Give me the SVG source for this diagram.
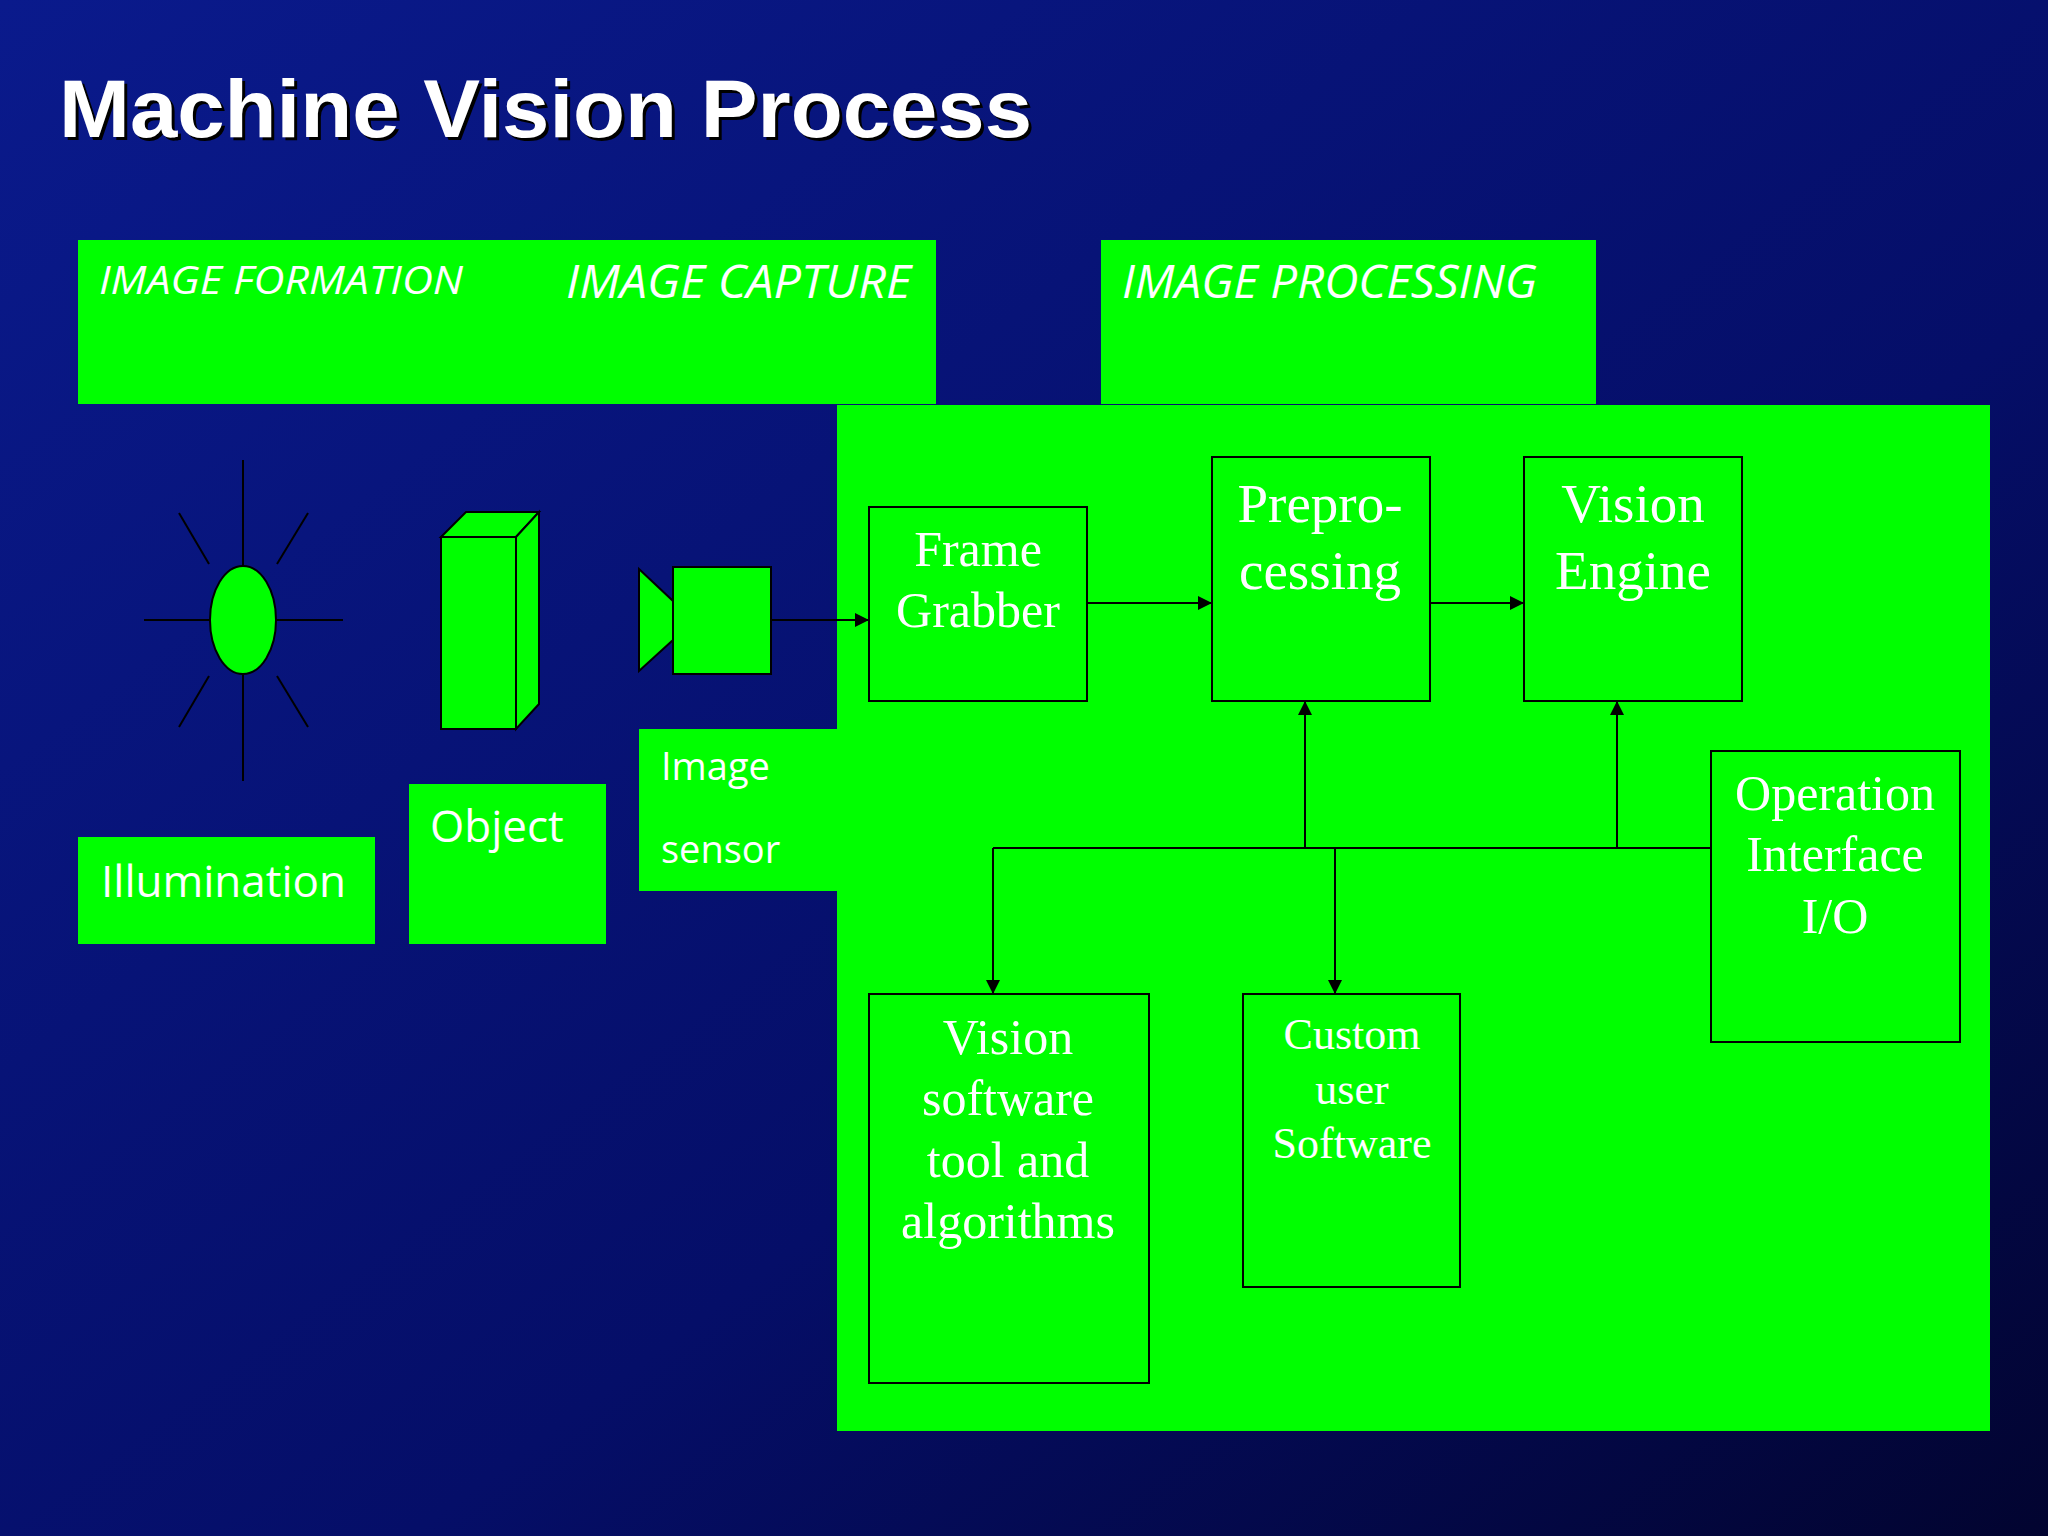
<svg xmlns="http://www.w3.org/2000/svg" width="2048" height="1536" viewBox="0 0 2048 1536">
<defs>
<linearGradient id="bg" x1="0" y1="0" x2="1" y2="1"><stop offset="0" stop-color="#0a1a8c"/><stop offset="0.6" stop-color="#050e68"/><stop offset="1" stop-color="#020430"/></linearGradient>
<marker id="ah" viewBox="0 0 10 10" refX="10" refY="5" markerWidth="14" markerHeight="14" markerUnits="userSpaceOnUse" orient="auto"><path d="M0,0 L10,5 L0,10 z" fill="#000"/></marker>
</defs>
<style>
.g{fill:#00ff00}
.b{fill:#00ff00;stroke:#000;stroke-width:2}
.hd{font-family:"Open Sans","Liberation Sans",sans-serif;font-style:italic;fill:#fff}
.sl{font-family:"Open Sans","Liberation Sans",sans-serif;fill:#fff}
.sf{font-family:"Liberation Serif",serif;fill:#fff;text-anchor:middle}
.c{stroke:#000;stroke-width:2;fill:none}
</style>
<rect width="2048" height="1536" fill="url(#bg)"/>
<text x="62" y="140" font-family="Liberation Sans,sans-serif" font-weight="bold" font-size="82" fill="#000" textLength="973" lengthAdjust="spacingAndGlyphs">Machine Vision Process</text>
<text x="59" y="137" font-family="Liberation Sans,sans-serif" font-weight="bold" font-size="82" fill="#fff" textLength="973" lengthAdjust="spacingAndGlyphs">Machine Vision Process</text>
<g id="formation"><rect class="g" x="78" y="240" width="858" height="164"/><text class="hd" x="99" y="294" font-size="39" textLength="364" lengthAdjust="spacingAndGlyphs">IMAGE FORMATION</text><text class="hd" x="566" y="298" font-size="45" textLength="345" lengthAdjust="spacingAndGlyphs">IMAGE CAPTURE</text></g>
<g id="processing"><rect class="g" x="1101" y="240" width="495" height="164"/><text class="hd" x="1122" y="298" font-size="45" textLength="415" lengthAdjust="spacingAndGlyphs">IMAGE PROCESSING</text></g>
<g id="bigbox"><rect class="g" x="837" y="405" width="1153" height="1026"/></g>
<g id="sun">
<g class="c"><line x1="243" y1="460" x2="243" y2="781"/><line x1="144" y1="620" x2="343" y2="620"/><line x1="179" y1="513" x2="209" y2="564"/><line x1="308" y1="513" x2="277" y2="564"/><line x1="179" y1="727" x2="209" y2="676"/><line x1="308" y1="727" x2="277" y2="676"/></g>
<ellipse class="b" cx="243" cy="620" rx="33" ry="54"/></g>
<g id="prism"><rect class="b" x="441" y="537" width="75" height="192"/><polygon class="b" points="441,537 466,512 539,512 516,537"/><polygon class="b" points="516,537 539,512 539,704 516,729"/></g>
<g id="camera"><rect class="b" x="673" y="567" width="98" height="107"/><polygon class="b" points="639,569 673,601 673,640 639,671"/></g>
<g id="illumination"><rect class="g" x="78" y="837" width="297" height="107"/><text class="sl" x="101" y="897" font-size="44">Illumination</text></g>
<g id="object"><rect class="g" x="409" y="784" width="197" height="160"/><text class="sl" x="430" y="842" font-size="44">Object</text></g>
<g id="sensor"><rect class="g" x="639" y="729" width="198" height="162"/><text class="sl" x="661" y="780" font-size="38">Image</text><text class="sl" x="661" y="863" font-size="38">sensor</text></g>
<g id="frame"><rect class="b" x="869" y="507" width="218" height="194"/><text class="sf" x="978" y="566" font-size="50">Frame</text><text class="sf" x="978" y="627" font-size="50">Grabber</text></g>
<g id="prepro"><rect class="b" x="1212" y="457" width="218" height="244"/><text class="sf" x="1320" y="522" font-size="55">Prepro-</text><text class="sf" x="1320" y="589" font-size="55">cessing</text></g>
<g id="engine"><rect class="b" x="1524" y="457" width="218" height="244"/><text class="sf" x="1633" y="522" font-size="55">Vision</text><text class="sf" x="1633" y="589" font-size="55">Engine</text></g>
<g id="operation"><rect class="b" x="1711" y="751" width="249" height="291"/><text class="sf" x="1835" y="810" font-size="50">Operation</text><text class="sf" x="1835" y="871" font-size="50">Interface</text><text class="sf" x="1835" y="933" font-size="50">I/O</text></g>
<g id="vsoft"><rect class="b" x="869" y="994" width="280" height="389"/><text class="sf" x="1008" y="1054" font-size="50">Vision</text><text class="sf" x="1008" y="1115" font-size="50">software</text><text class="sf" x="1008" y="1177" font-size="50">tool and</text><text class="sf" x="1008" y="1238" font-size="50">algorithms</text></g>
<g id="custom"><rect class="b" x="1243" y="994" width="217" height="293"/><text class="sf" x="1352" y="1049" font-size="44">Custom</text><text class="sf" x="1352" y="1104" font-size="44">user</text><text class="sf" x="1352" y="1158" font-size="44">Software</text></g>
<g id="connectors" class="c">
<line x1="771" y1="620" x2="869" y2="620" marker-end="url(#ah)"/>
<line x1="1087" y1="603" x2="1212" y2="603" marker-end="url(#ah)"/>
<line x1="1430" y1="603" x2="1524" y2="603" marker-end="url(#ah)"/>
<line x1="993" y1="848" x2="1711" y2="848"/>
<line x1="1305" y1="848" x2="1305" y2="701" marker-end="url(#ah)"/>
<line x1="1617" y1="848" x2="1617" y2="701" marker-end="url(#ah)"/>
<line x1="993" y1="848" x2="993" y2="994" marker-end="url(#ah)"/>
<line x1="1335" y1="848" x2="1335" y2="994" marker-end="url(#ah)"/>
</g>
</svg>
